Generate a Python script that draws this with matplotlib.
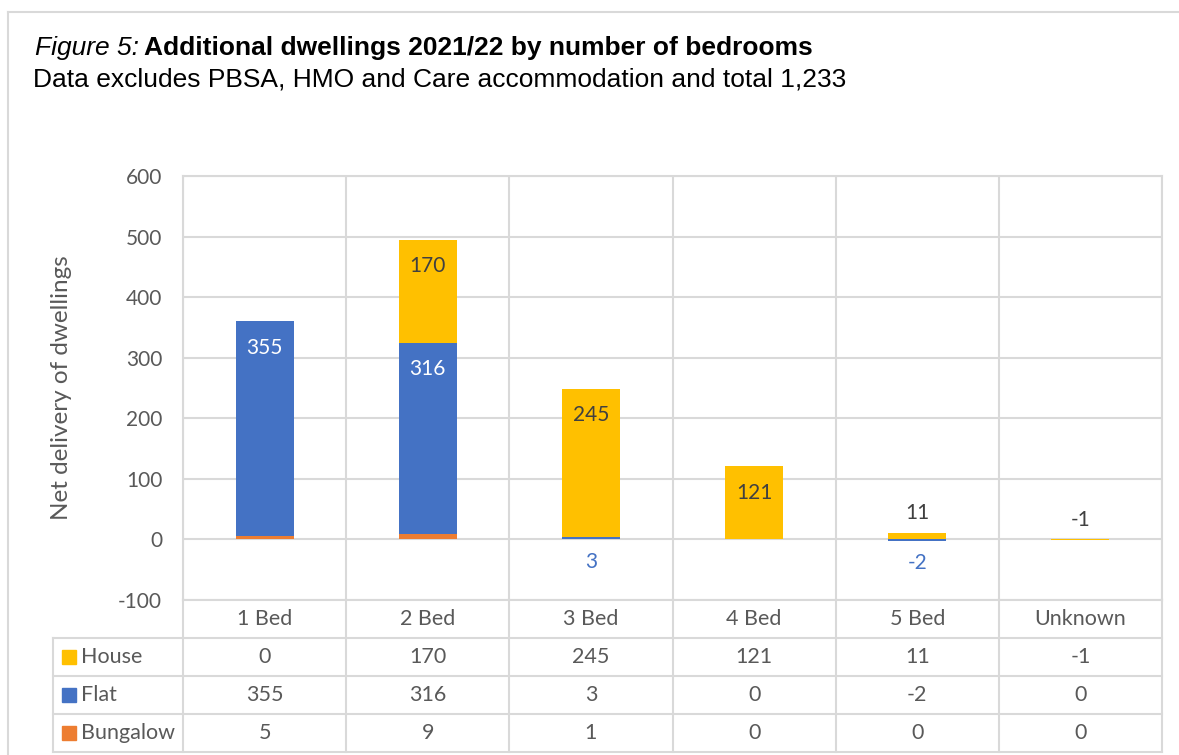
import numpy as np
import matplotlib
matplotlib.use('Agg')
import matplotlib.pyplot as plt
from matplotlib.lines import Line2D

# data
categories = ['1 Bed', '2 Bed', '3 Bed', '4 Bed', '5 Bed', 'Unknown']
bungalow = [5, 9, 1, 0, 0, 0]
flat = [355, 316, 3, 0, -2, 0]
house = [0, 170, 245, 121, 11, -1]

colors = {'House': '#FFC000', 'Flat': '#4472C4', 'Bungalow': '#ED7D31'}
grid_c = '#D9D9D9'
text_c = '#595959'

W, H = 1179, 755
fig = plt.figure(figsize=(W / 100, H / 100), dpi=100)

def fx(px):
    return px / W

def fy(py):
    return 1 - py / H

# outer frame
fig.add_artist(Line2D([fx(8), 1.0], [fy(12), fy(12)], color=grid_c, lw=1.5))
fig.add_artist(Line2D([fx(8), fx(8)], [fy(12), 0], color=grid_c, lw=1.5))

# main plot area
L, R, T, B = 183, 1162, 176, 600
ax = fig.add_axes([fx(L), fy(B), fx(R) - fx(L), fy(T) - fy(B)])
ax.set_xlim(-0.5, len(categories) - 0.5)
ax.set_ylim(-100, 600)

x = np.arange(len(categories))
bw = 0.355
pos_base = np.zeros(len(x))
neg_base = np.zeros(len(x))
segs = {}
for name, vals in [('Bungalow', bungalow), ('Flat', flat), ('House', house)]:
    vals = np.array(vals, dtype=float)
    bottoms = np.where(vals >= 0, pos_base, neg_base)
    ax.bar(x, vals, bw, bottom=bottoms, color=colors[name], linewidth=0, zorder=3)
    segs[name] = (bottoms, vals)
    pos_base = pos_base + np.where(vals > 0, vals, 0)
    neg_base = neg_base + np.where(vals < 0, vals, 0)

# data labels
fs = 15
lab_font = dict(family='Lato', fontsize=fs)
for name, inside_col, out_col in [('House', '#404040', '#404040'), ('Flat', 'white', '#4472C4')]:
    bottoms, vals = segs[name]
    for i, (b, v) in enumerate(zip(bottoms, vals)):
        if v == 0:
            continue
        top = b + v
        if abs(v) >= 50:
            ax.annotate(f'{int(v)}', (x[i], top), xytext=(0, -19), textcoords='offset points',
                        ha='center', va='center', color=inside_col, zorder=5, **lab_font)
        elif name == 'House':
            ax.annotate(f'{int(v)}', (x[i], max(top, 0)), xytext=(0, 14), textcoords='offset points',
                        ha='center', va='center', color=out_col, zorder=5, **lab_font)
        else:
            ax.annotate(f'{int(v)}', (x[i], min(b, top, 0)), xytext=(0, -16), textcoords='offset points',
                        ha='center', va='center', color=out_col, zorder=5, **lab_font)

ax.set_yticks(np.arange(-100, 601, 100))
ax.set_yticklabels([str(v) for v in range(-100, 601, 100)])
ax.set_xticks([])
ax.tick_params(axis='y', length=0, pad=15, labelcolor=text_c, labelsize=fs)
for lab in ax.get_yticklabels():
    lab.set_family('Lato')
ax.grid(axis='y', color=grid_c, lw=1.5, zorder=0)
for xv in np.arange(-0.5, len(categories), 1.0):
    ax.axvline(xv, color=grid_c, lw=1.5, zorder=0)
for s in ax.spines.values():
    s.set_color(grid_c)
    s.set_linewidth(1.5)

fig.text(fx(62), fy(388), 'Net delivery of dwellings', rotation=90, ha='center', va='center',
         color=text_c, family='Lato', fontsize=17.5)

# data table below plot
TL, TB = 53, 752
tax = fig.add_axes([fx(TL), fy(TB), fx(R) - fx(TL), fy(B) - fy(TB)])
unit_px = (R - L) / len(categories)
x_left = -0.5 - (L - TL) / unit_px
tax.set_xlim(x_left, len(categories) - 0.5)
tax.set_ylim(0, 4)
tax.axis('off')
lw = 1.5
for xv in np.arange(-0.5, len(categories), 1.0):
    tax.plot([xv, xv], [0, 4], color=grid_c, lw=lw, clip_on=False)
tax.plot([x_left, x_left], [0, 3], color=grid_c, lw=lw, clip_on=False)
for yv in [0, 1, 2, 3]:
    tax.plot([x_left, len(categories) - 0.5], [yv, yv], color=grid_c, lw=lw, clip_on=False)

tfs = 15.5
for i, c in enumerate(categories):
    tax.text(x[i], 3.5, c, ha='center', va='center', color=text_c, family='Lato', fontsize=tfs)

rows = [('House', house), ('Flat', flat), ('Bungalow', bungalow)]
for r, (name, vals) in enumerate(rows):
    yc = 2.5 - r
    tax.plot([x_left + 15.5 / unit_px], [yc], marker='s', ms=10, color=colors[name], clip_on=False)
    tax.text(x_left + 28 / unit_px, yc, name, ha='left', va='center', color=text_c,
             family='Lato', fontsize=tfs)
    for i, v in enumerate(vals):
        tax.text(x[i], yc, str(v), ha='center', va='center', color=text_c, family='Lato', fontsize=tfs)

# titles
renderer = fig.canvas.get_renderer()
t1 = fig.text(fx(35), fy(48), 'Figure 5:', style='italic', family='Liberation Sans',
              fontsize=19, va='center', ha='left')
w1 = t1.get_window_extent(renderer).width
fig.text(fx(35 + w1 + 5), fy(48), 'Additional dwellings 2021/22 by number of bedrooms',
         weight='bold', family='Liberation Sans', fontsize=19, va='center', ha='left')
fig.text(fx(33), fy(80), 'Data excludes PBSA, HMO and Care accommodation and total 1,233',
         family='Liberation Sans', fontsize=19, va='center', ha='left')

fig.savefig('out.png', dpi=100)
